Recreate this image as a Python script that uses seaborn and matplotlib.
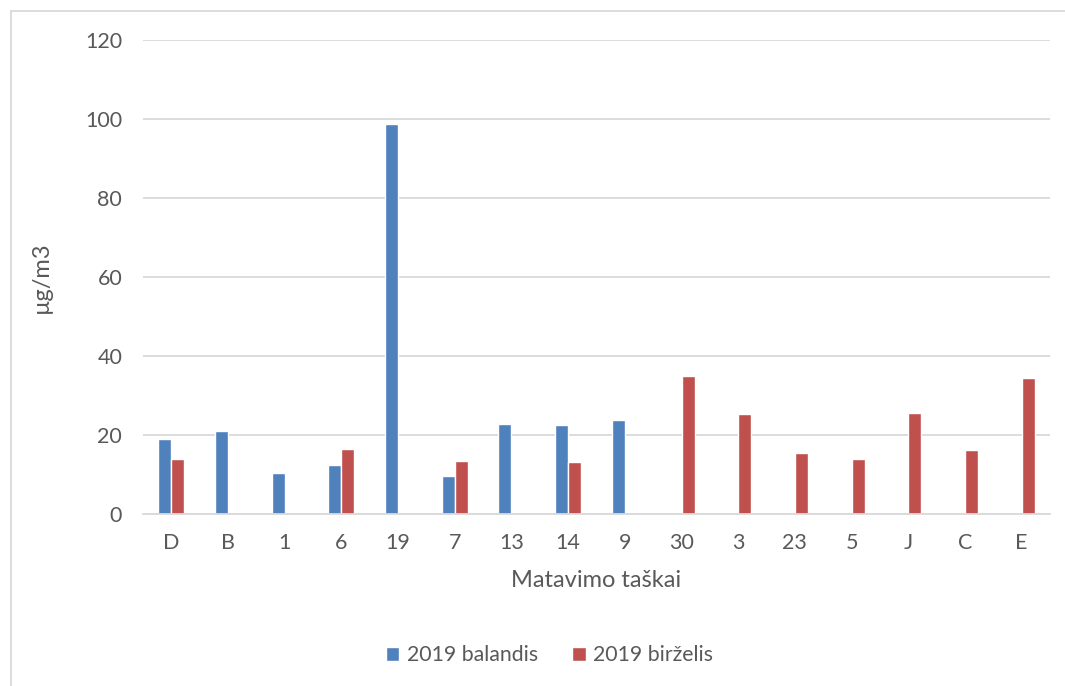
import numpy as np
import pandas as pd
import matplotlib
matplotlib.use("Agg")
import matplotlib.pyplot as plt
from matplotlib.patches import Rectangle
import seaborn as sns

# Measurement points and concentrations (µg/m3) for two campaigns
points = ["D", "B", "1", "6", "19", "7", "13", "14", "9", "30", "3", "23", "5", "J", "C", "E"]
april = [18.9, 21.0, 10.4, 12.3, 98.7, 9.6, 22.9, 22.6, 23.7,
         np.nan, np.nan, np.nan, np.nan, np.nan, np.nan, np.nan]
june = [14.0, np.nan, np.nan, 16.5, np.nan, 13.5, np.nan, 13.1, np.nan,
        34.9, 25.4, 15.5, 13.9, 25.6, 16.1, 34.5]
series_names = ["2019 balandis", "2019 birželis"]
colors = ["#4F81BD", "#C0504D"]
y_ticks = [0, 20, 40, 60, 80, 100, 120]

df = pd.DataFrame({
    "point": points * 2,
    "value": april + june,
    "series": [series_names[0]] * len(points) + [series_names[1]] * len(points),
})

sns.set_theme(style="white")
plt.rcParams["font.family"] = ["Lato", "DejaVu Sans"]
text_color = "#595959"

fig = plt.figure(figsize=(10.65, 6.86), dpi=100)
ax = fig.add_axes([143 / 1065, 1 - 514 / 686, (1050 - 143) / 1065, (514 - 40) / 686])

sns.barplot(data=df, x="point", y="value", hue="series", order=points,
            hue_order=series_names, palette=colors, width=0.46,
            saturation=1, errorbar=None, ax=ax, legend=True)

ax.set_ylim(0, 120)
ax.set_yticks(y_ticks)
ax.set_xlim(-0.5, len(points) - 0.5)
ax.yaxis.grid(True, color="#D9D9D9", linewidth=1.3)
ax.set_axisbelow(True)
for side in ["top", "right", "left"]:
    ax.spines[side].set_visible(False)
ax.spines["bottom"].set_color("#D9D9D9")
ax.spines["bottom"].set_linewidth(1.3)
ax.tick_params(axis="both", length=0, labelsize=15.5, colors=text_color)
ax.tick_params(axis="x", pad=14)
ax.tick_params(axis="y", pad=15)

ax.set_xlabel("Matavimo taškai", fontsize=17, color=text_color, labelpad=12)
ax.set_ylabel("µg/m3", fontsize=17, color=text_color, labelpad=24)

leg = ax.legend(loc="center", bbox_to_anchor=(0.448, -0.298), ncol=2, frameon=False,
                fontsize=15.3, handlelength=0.65, handleheight=0.65,
                handletextpad=0.35, columnspacing=1.6, labelcolor=text_color)

# Chart frame
fig.patches.append(Rectangle((11 / 1065, -0.01), 1.1, 1 - 11 / 686 + 0.01,
                             transform=fig.transFigure, fill=False,
                             edgecolor="#D9D9D9", linewidth=1.3))

fig.savefig("out.png", dpi=100)
